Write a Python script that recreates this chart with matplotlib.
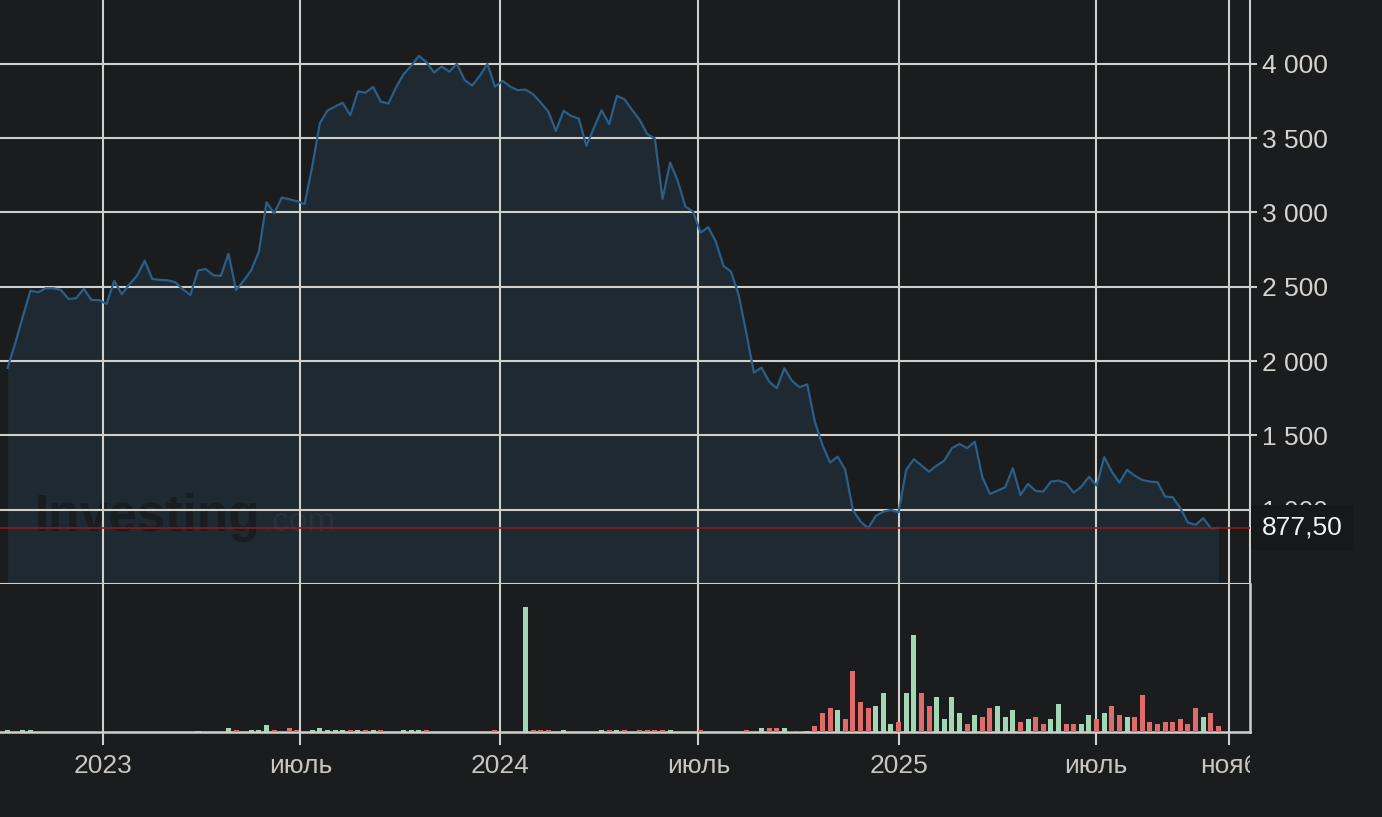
import matplotlib
matplotlib.use("Agg")
import matplotlib.pyplot as plt
import matplotlib.dates as mdates
from matplotlib.ticker import FixedLocator, FuncFormatter
from matplotlib.transforms import Bbox, TransformedBbox, blended_transform_factory
import pandas as pd
import numpy as np

plt.rcParams['font.family'] = ['Liberation Sans', 'DejaVu Sans']

# weekly closes, Oct 2022 - Oct 2025
price = [
    1954, 2120, 2300, 2474, 2463, 2490, 2490, 2479, 2418, 2423,
    2486, 2412, 2410, 2385, 2540, 2450, 2517, 2575, 2676, 2553,
    2546, 2544, 2531, 2484, 2445, 2609, 2620, 2578, 2573, 2723,
    2479, 2541, 2613, 2737, 3069, 2995, 3100, 3089, 3076, 3056,
    3309, 3601, 3686, 3713, 3738, 3655, 3814, 3807, 3845, 3746,
    3733, 3841, 3931, 3987, 4054, 4011, 3942, 3982, 3948, 4000,
    3892, 3854, 3919, 4000, 3847, 3886, 3847, 3823, 3827, 3796,
    3740, 3679, 3549, 3684, 3650, 3632, 3448, 3571, 3688, 3594,
    3785, 3762, 3690, 3623, 3527, 3497, 3091, 3336, 3213, 3040,
    3006, 2865, 2901, 2804, 2641, 2602, 2445, 2190, 1922, 1956,
    1862, 1817, 1952, 1867, 1824, 1844, 1593, 1436, 1317, 1357,
    1268, 998, 920, 875, 958, 987, 998, 983, 1268, 1340,
    1297, 1256, 1297, 1330, 1414, 1443, 1414, 1458, 1218, 1106,
    1128, 1151, 1279, 1099, 1173, 1126, 1122, 1189, 1196, 1178,
    1115, 1155, 1222, 1162, 1353, 1256, 1182, 1268, 1229, 1200,
    1189, 1185, 1088, 1084, 1010, 913, 898, 943, 875, 877.5,
]

# relative weekly volume (no scale shown on chart)
volume = [
    2, 0, 2, 2, 0, 0, 0, 0, 0, 0,
    0, 0, 0, 0, 0, 0, 0, 0, 0, 0,
    0, 0, 0, 0, 0, 1.5, 0, 0, 0, 4.3,
    2, 0, 2, 2, 6.7, 2, 0, 4.3, 2, 0,
    2, 4.3, 2, 2, 2, 2, 2, 2, 2, 2,
    0, 0, 2, 2, 2, 2, 0, 0, 0, 0,
    0, 0, 0, 0, 2, 0, 0, 0, 125, 2,
    2, 2, 0, 2, 0, 0, 0, 0, 2, 2,
    2, 2, 0, 2, 2, 2, 2, 2, 0, 0,
    0, 2, 0, 0, 0, 0, 0, 2, 0, 3.7,
    3.7, 3.7, 3.7, 1.3, 1.3, 1.3, 5.7, 19.3, 23.7, 21.7,
    12.7, 61.3, 30.3, 23.7, 25.7, 39.3, 8, 10.3, 39.3, 97.3,
    39.3, 26, 35, 12.7, 35, 19.3, 8, 17, 15.3, 23.7,
    26, 15, 21.7, 10.3, 12.7, 14.7, 8, 12.7, 28, 8,
    8, 8, 17, 12.7, 19.3, 25.7, 17, 14.7, 14.7, 36.7,
    10.3, 8, 10.3, 10.3, 12.7, 8, 23.7, 14.7, 19.3, 5.7,
]

# 1 = up week (green bar), -1 = down week (red bar)
vol_dir = [
    1, 1, 1, 1, 1, 1, 1, 1, 1, 1,
    1, 1, 1, 1, 1, 1, 1, 1, 1, 1,
    1, 1, 1, 1, 1, 1, 1, 1, 1, 1,
    -1, 1, 1, 1, 1, -1, 1, -1, -1, 1,
    1, 1, 1, 1, 1, -1, 1, -1, 1, -1,
    1, 1, 1, 1, 1, -1, 1, 1, 1, 1,
    1, 1, 1, 1, -1, 1, 1, 1, 1, -1,
    -1, -1, 1, 1, 1, 1, 1, 1, 1, -1,
    1, -1, 1, -1, -1, -1, -1, 1, 1, 1,
    1, -1, 1, 1, 1, 1, 1, -1, 1, 1,
    -1, -1, 1, -1, -1, 1, -1, -1, -1, 1,
    -1, -1, -1, -1, 1, 1, 1, -1, 1, 1,
    -1, -1, 1, 1, 1, 1, -1, 1, -1, -1,
    1, 1, 1, -1, 1, -1, -1, 1, 1, -1,
    -1, 1, 1, -1, 1, -1, -1, 1, -1, -1,
    -1, -1, -1, -1, -1, -1, -1, 1, -1, -1,
]

dates = pd.date_range(end='2025-10-22', periods=len(price), freq='W-WED')

tick_dates = ['2023-01-01', '2023-07-01', '2024-01-01', '2024-07-01',
              '2025-01-01', '2025-07-01', '2025-11-01']
tick_labels = ['2023', 'июль', '2024', 'июль', '2025', 'июль', 'нояб']
y_ticks = [1000, 1500, 2000, 2500, 3000, 3500, 4000]
last_price = 877.5

BG = '#1b1c1e'
GRID = '#cfcfcc'
LINE = '#2c5f87'
TXT = '#c9c5bf'

W, H = 1382, 817
fig = plt.figure(figsize=(W / 100, H / 100), dpi=100, facecolor=BG)
ax = fig.add_axes([0, (H - 584) / H, 1250 / W, 584 / H], facecolor=BG)
axv = fig.add_axes([0, (H - 732) / H, 1250 / W, 148 / H], facecolor=BG, sharex=ax)

xt = mdates.date2num(pd.to_datetime(tick_dates))

# price panel
ax.fill_between(dates, price, 500, color='#1e2931', lw=0, zorder=1)
ax.plot(dates, price, color=LINE, lw=1.6, zorder=3)
ax.axhline(last_price, color='#8e1a1a', lw=1.2, zorder=3.5)

ax.text(0.028, 0.091, 'Investing', transform=ax.transAxes, fontsize=37,
        fontweight='bold', color='#191c1f', alpha=0.9, va='baseline', zorder=1.2)
ax.text(0.21, 0.091, '.com', transform=ax.transAxes, fontsize=24,
        color='#2a3036', va='baseline', zorder=1.2)

ax.set_ylim(500, 4430)
ax.set_xlim(pd.Timestamp('2022-09-28'), pd.Timestamp('2025-11-20'))
ax.set_axisbelow(False)
ax.yaxis.set_major_locator(FixedLocator(y_ticks))
ax.yaxis.set_major_formatter(FuncFormatter(lambda v, p: f'{v:,.0f}'.replace(',', ' ')))
ax.yaxis.tick_right()
ax.xaxis.set_major_locator(FixedLocator(xt))
ax.grid(True, color=GRID, lw=1.5)
ax.tick_params(axis='y', length=5, width=1.5, color=GRID, labelsize=19,
               labelcolor='#d6d3ce', pad=4)
ax.tick_params(axis='x', length=0, labelbottom=False)
for s in ['left', 'top']:
    ax.spines[s].set_visible(False)
for s in ['right', 'bottom']:
    ax.spines[s].set_color(GRID)
    ax.spines[s].set_linewidth(1.5)

trans = blended_transform_factory(ax.transAxes, ax.transData)
ax.text(1.0 + 12 / 1250, last_price, '877,50', transform=trans, fontsize=19,
        color='#f2f2f2', ha='left', va='center', clip_on=False, zorder=10,
        bbox=dict(boxstyle='square,pad=0.4', fc='#17181a', ec='none'))

# volume panel
colors = ['#a3d7b3' if d > 0 else '#e06b6b' for d in vol_dir]
axv.bar(dates, volume, width=4.6, color=colors, lw=0, zorder=3)
axv.set_ylim(0, 148)
axv.set_yticks([])
axv.set_axisbelow(True)
axv.xaxis.set_major_locator(FixedLocator(xt))
axv.set_xticklabels(tick_labels)
axv.grid(True, axis='x', color=GRID, lw=1.5)
axv.tick_params(axis='x', length=9.5, width=1.5, color=GRID, labelsize=19,
                labelcolor=TXT, pad=6)
for s in ['left', 'top']:
    axv.spines[s].set_visible(False)
for s in ['right', 'bottom']:
    axv.spines[s].set_color(GRID)
    axv.spines[s].set_linewidth(1.8)

clip = TransformedBbox(Bbox.from_extents(0, 0, 1250 / W, 1), fig.transFigure)
for lbl in axv.get_xticklabels():
    lbl.set_clip_box(clip)
    lbl.set_clip_on(True)

fig.savefig('out.png', dpi=100, facecolor=BG)
